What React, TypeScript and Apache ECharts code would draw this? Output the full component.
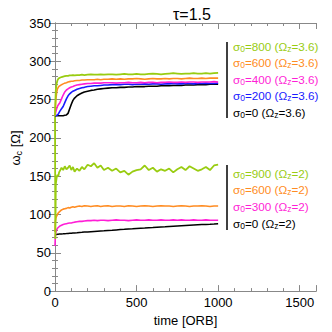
import React, { useEffect, useRef } from 'react';
import * as echarts from 'echarts';

const FONT = "'Liberation Sans', Arial, Helvetica, sans-serif";

// time samples [ORB]
const T = [0, 2, 5, 10, 15, 20, 25, 30, 40, 50, 60, 70, 80, 90, 100, 110, 120, 135, 150, 165, 180, 200, 220, 240, 260, 280, 300, 325, 350, 375, 400, 425, 450, 475, 500, 525, 550, 575, 600, 625, 650, 675, 700, 725, 750, 775, 800, 825, 850, 875, 900, 925, 950, 975, 1000];

// Omega_z = 3.6 group
const s800_36 = [229, 245, 262, 271, 275, 277, 278, 278.5, 279.5, 280, 280.5, 281, 281, 281.5, 281.5, 282, 281.5, 282, 282, 282.5, 282, 282.5, 283, 282.5, 282.5, 283, 282.5, 283, 283, 282.5, 283, 283.5, 283, 283, 283.5, 283, 283, 283.5, 284, 283.5, 283, 283.5, 284, 284.5, 284, 283.5, 284, 284, 284.5, 284, 284, 284.5, 284, 284.5, 285];
const s600_36 = [229, 238, 250, 259, 264, 266, 267.5, 268, 269.5, 270.5, 271.5, 272, 273, 273.5, 274, 274, 274.5, 275, 275, 275.5, 275.5, 276, 276, 276, 276.5, 276, 276.5, 276.5, 277, 276.5, 277, 276.5, 277, 277, 277.5, 277, 276.5, 277, 277.5, 277, 277, 277.5, 277, 277.5, 277.5, 277, 277.5, 278, 277.5, 277.5, 278, 277.5, 278, 278, 278];
const s400_36 = [229, 231, 234, 238, 241, 243, 244.5, 246, 251, 256, 260, 262.5, 264, 265.5, 266.5, 267, 268, 269, 269.5, 270, 270.5, 271, 271, 271.5, 271.5, 271.5, 272, 272, 272, 271.5, 272, 272, 272.5, 272, 272, 272.5, 272, 272.5, 272.5, 272, 272.5, 272.5, 273, 272.5, 272.5, 273, 272.5, 273, 273, 272.5, 273, 273, 273, 273.5, 273];
const s200_36 = [229, 229, 229, 229.5, 230, 231, 233, 235, 238, 241, 246, 251, 255, 257.5, 259.5, 261, 262, 263.5, 264.5, 265.5, 266, 267, 267.5, 268, 268, 268.5, 269, 269, 269.5, 269.5, 269.5, 270, 270, 269.5, 270, 270, 270.5, 270, 270.5, 270.5, 270, 270.5, 270.5, 271, 270.5, 270.5, 271, 271, 270.5, 271, 271, 271.5, 271, 271, 271.5];
const s0_36 = [229, 229, 229, 229, 229, 229, 229, 229, 229, 229, 229.5, 230, 232, 238, 244, 249, 252, 255, 257, 258.5, 260, 261, 262, 262.5, 263.5, 264, 264.5, 265, 265.5, 265.5, 266, 266, 266.5, 266.5, 267, 267, 267, 267.5, 267.5, 267.5, 268, 268, 268, 268.5, 268.5, 268.5, 269, 269, 269, 269.5, 269.5, 269.5, 270, 270, 270];

// Omega_z = 2 group
const s900_2 = [229, 68, 140, 148, 152, 150, 155, 157, 161, 158, 163, 159, 161, 164, 158, 162, 156, 160, 157, 162, 159, 165, 163, 167, 161, 164, 158, 161, 157, 160, 155, 157, 152, 156, 158, 159, 164, 158, 161, 156, 159, 157, 160, 155, 159, 162, 158, 163, 160, 157, 159, 162, 158, 164, 165];
const s600_2 = [77, 90, 95, 98, 100, 102, 103, 104, 106, 107, 107.5, 108, 109, 108.5, 109.5, 110, 109.5, 110.5, 111, 110.5, 111.5, 111, 110.5, 111, 111.5, 110.5, 111, 111.5, 110.5, 111, 111, 110.5, 111.5, 111, 110.5, 111, 111.5, 111, 110.5, 111, 111.5, 111, 111, 110.5, 111, 111.5, 111, 110.5, 111, 111, 111.5, 111, 110.5, 111, 111];
const s300_2 = [59, 72, 77, 80, 82, 83, 84, 85, 86, 87, 87.5, 88, 88.5, 89, 89, 89.5, 90, 90.5, 91, 91, 91.5, 92, 92, 92.5, 92, 92.5, 92.5, 92, 92.5, 93, 92.5, 92.5, 92, 92.5, 93, 92.5, 92.5, 93, 92.5, 92.5, 93, 92.5, 92.5, 93, 92.5, 93, 92.5, 92.5, 93, 92.5, 92.5, 93, 92.5, 92.5, 92.5];
const s0_2 = [74, 74, 74, 74, 74.2, 74.3, 74.4, 74.5, 74.7, 74.8, 75, 75.1, 75.3, 75.5, 75.6, 75.8, 76, 76.2, 76.5, 76.7, 77, 77.3, 77.6, 77.9, 78.2, 78.5, 78.8, 79.2, 79.5, 79.9, 80.3, 80.6, 81, 81.3, 81.7, 82, 82.3, 82.7, 83, 83.4, 83.7, 84, 84.4, 84.7, 85, 85.3, 85.6, 85.9, 86.2, 86.5, 86.8, 87.1, 87.3, 87.6, 88];

const GREEN = '#99cc11';
const ORANGE = '#ff8c22';
const MAGENTA = '#ff1ed6';
const BLUE = '#1a1aff';
const BLACK = '#000000';

const SERIES = [
  { vals: s0_2, color: BLACK, width: 1.5 },
  { vals: s300_2, color: MAGENTA, width: 1.6 },
  { vals: s600_2, color: ORANGE, width: 1.6 },
  { vals: s900_2, color: GREEN, width: 1.8 },
  { vals: s0_36, color: BLACK, width: 1.6 },
  { vals: s200_36, color: BLUE, width: 1.6 },
  { vals: s400_36, color: MAGENTA, width: 1.6 },
  { vals: s600_36, color: ORANGE, width: 1.6 },
  { vals: s800_36, color: GREEN, width: 1.8 },
];

const LEGEND_TOP = [
  { sigma: '800', omega: '3.6', color: GREEN },
  { sigma: '600', omega: '3.6', color: ORANGE },
  { sigma: '400', omega: '3.6', color: MAGENTA },
  { sigma: '200', omega: '3.6', color: BLUE },
  { sigma: '0', omega: '3.6', color: BLACK },
];
const LEGEND_BOTTOM = [
  { sigma: '900', omega: '2', color: GREEN },
  { sigma: '600', omega: '2', color: ORANGE },
  { sigma: '300', omega: '2', color: MAGENTA },
  { sigma: '0', omega: '2', color: BLACK },
];

const AXIS_COLOR = '#888';

function legendItems(items: { sigma: string; omega: string; color: string }[], y0: number, dy: number) {
  return items.map((it, i) => ({
    type: 'text',
    x: 233,
    y: y0 + i * dy,
    style: {
      text: `{a|σ}{b|0}{a|=${it.sigma} (Ω}{b|z}{a|=${it.omega})}`,
      fill: it.color,
      verticalAlign: 'middle',
      align: 'left',
      rich: {
        a: { fontSize: 11.7, fontFamily: FONT, fill: it.color, lineHeight: 14 },
        b: { fontSize: 8.5, fontFamily: FONT, fill: it.color, lineHeight: 14, verticalAlign: 'bottom' },
      },
    },
  }));
}

export default function App() {
  const ref = useRef<HTMLDivElement>(null);
  useEffect(() => {
    const chart = echarts.init(ref.current!, null, { renderer: 'svg' });
    const tickBase = { show: true, inside: true, lineStyle: { color: AXIS_COLOR, width: 1 } };
    const option: any = {
      animation: false,
      backgroundColor: '#fff',
      title: {
        text: 'τ=1.5',
        left: 187,
        top: 1,
        textAlign: 'center',
        textStyle: { fontSize: 16, fontWeight: 'normal', color: '#000', fontFamily: FONT },
      },
      grid: { left: 55, top: 23, width: 261, height: 269, containLabel: false },
      xAxis: [
        {
          type: 'value', position: 'bottom', min: 0, max: 1600, interval: 500,
          axisLine: { show: true, lineStyle: { color: AXIS_COLOR, width: 1 } },
          axisTick: { ...tickBase, length: 6 },
          axisLabel: {
            color: '#000', fontSize: 13, fontFamily: FONT, margin: 5,
            formatter: (v: number) => (v % 500 === 0 ? String(v) : ''),
          },
          splitLine: { show: false },
          name: 'time [ORB]', nameLocation: 'middle', nameGap: 20,
          nameTextStyle: { color: '#000', fontSize: 13, fontFamily: FONT },
        },
        {
          type: 'value', position: 'bottom', min: 0, max: 1600, interval: 100,
          axisLine: { show: true, lineStyle: { color: AXIS_COLOR, width: 1 } },
          axisTick: { ...tickBase, length: 3 },
          axisLabel: { show: false },
          splitLine: { show: false },
        },
        {
          type: 'value', position: 'top', min: 0, max: 1600, interval: 500,
          axisLine: { show: true, lineStyle: { color: AXIS_COLOR, width: 1 } },
          axisTick: { ...tickBase, length: 6 },
          axisLabel: { show: false },
          splitLine: { show: false },
        },
        {
          type: 'value', position: 'top', min: 0, max: 1600, interval: 100,
          axisLine: { show: true, lineStyle: { color: AXIS_COLOR, width: 1 } },
          axisTick: { ...tickBase, length: 3 },
          axisLabel: { show: false },
          splitLine: { show: false },
        },
      ],
      yAxis: [
        {
          type: 'value', position: 'left', min: 0, max: 350, interval: 50,
          axisLine: { show: true, lineStyle: { color: AXIS_COLOR, width: 1 } },
          axisTick: { ...tickBase, length: 6 },
          minorTick: { show: true, splitNumber: 5, length: 3, lineStyle: { color: AXIS_COLOR, width: 1 } },
          axisLabel: { color: '#000', fontSize: 13, fontFamily: FONT, margin: 4 },
          splitLine: { show: false },
          minorSplitLine: { show: false },
        },
        {
          type: 'value', position: 'right', min: 0, max: 350, interval: 50,
          axisLine: { show: true, lineStyle: { color: AXIS_COLOR, width: 1 } },
          axisTick: { ...tickBase, length: 6 },
          minorTick: { show: true, splitNumber: 5, length: 3, lineStyle: { color: AXIS_COLOR, width: 1 } },
          axisLabel: { show: false },
          splitLine: { show: false },
          minorSplitLine: { show: false },
        },
      ],
      series: SERIES.map((s) => ({
        type: 'line',
        xAxisIndex: 0,
        yAxisIndex: 0,
        showSymbol: false,
        symbol: 'none',
        silent: true,
        lineStyle: { color: s.color, width: s.width },
        itemStyle: { color: s.color },
        data: T.map((t, i) => [t, s.vals[i]]),
      })),
      graphic: [
        {
          type: 'text',
          x: 15,
          y: 148,
          rotation: Math.PI / 2,
          style: {
            text: '{a|ω}{b|c}{a| [Ω]}',
            fill: '#000',
            align: 'center',
            verticalAlign: 'middle',
            rich: {
              a: { fontSize: 13, fontFamily: FONT, fill: '#000', lineHeight: 16 },
              b: { fontSize: 9, fontFamily: FONT, fill: '#000', lineHeight: 16, verticalAlign: 'bottom' },
            },
          },
        },
        { type: 'line', shape: { x1: 227, y1: 42, x2: 227, y2: 118 }, style: { stroke: '#000', lineWidth: 1.5 } },
        { type: 'line', shape: { x1: 227, y1: 165, x2: 227, y2: 230 }, style: { stroke: '#000', lineWidth: 1.5 } },
        ...legendItems(LEGEND_TOP, 46, 16.5),
        ...legendItems(LEGEND_BOTTOM, 173, 16.7),
      ],
    };
    chart.setOption(option);
    return () => chart.dispose();
  }, []);
  return (
    <div
      ref={ref}
      style={{ position: 'absolute', left: 0, top: 0, width: 332, height: 332, background: '#fff' }}
    />
  );
}
